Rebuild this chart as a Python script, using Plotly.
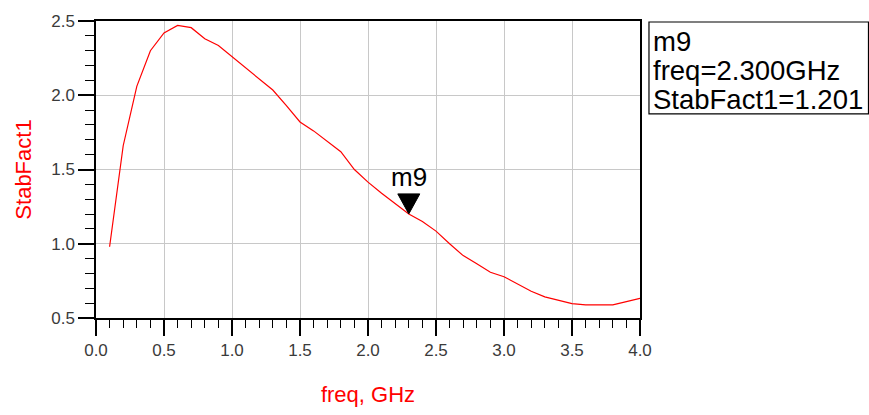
import plotly.graph_objects as go

freq_ghz = [0.1, 0.2, 0.3, 0.4, 0.5, 0.6, 0.7, 0.8, 0.9, 1.0,
            1.1, 1.2, 1.3, 1.4, 1.5, 1.6, 1.7, 1.8, 1.9, 2.0,
            2.1, 2.2, 2.3, 2.4, 2.5, 2.6, 2.7, 2.8, 2.9, 3.0,
            3.1, 3.2, 3.3, 3.4, 3.5, 3.6, 3.7, 3.8, 3.9, 4.0]
stab_fact1 = [0.98, 1.66, 2.06, 2.30, 2.42, 2.47, 2.455, 2.38, 2.335, 2.26,
              2.18, 2.105, 2.035, 1.93, 1.82, 1.76, 1.69, 1.62, 1.50, 1.415,
              1.34, 1.27, 1.201, 1.15, 1.085, 1.0, 0.92, 0.865, 0.808, 0.778,
              0.728, 0.68, 0.642, 0.618, 0.597, 0.588, 0.588, 0.589, 0.61, 0.632]

marker_name = "m9"
marker_freq = 2.3
marker_val = 1.201

x_ticks = [0.0, 0.5, 1.0, 1.5, 2.0, 2.5, 3.0, 3.5, 4.0]
y_ticks = [0.5, 1.0, 1.5, 2.0, 2.5]

RED = "#ff0000"
TICK_FONT = dict(family="Liberation Sans, Arial", size=17, color="#3a3a3a")

fig = go.Figure()
fig.add_trace(go.Scatter(x=freq_ghz, y=stab_fact1, mode="lines",
                         line=dict(color=RED, width=1.2), showlegend=False,
                         hoverinfo="skip"))

axis_common = dict(showline=True, linecolor="black", linewidth=1.5, mirror=True,
                   showgrid=True, gridcolor="#c8c8c8", gridwidth=1,
                   ticks="outside", ticklen=16, tickwidth=1.5, tickcolor="black",
                   tickfont=TICK_FONT, zeroline=False)

fig.update_xaxes(range=[0, 4], tickvals=x_ticks,
                 ticktext=[f"{v:.1f}" for v in x_ticks],
                 minor=dict(dtick=0.1, ticks="outside", ticklen=8, tickwidth=1.2,
                            tickcolor="black", showgrid=False),
                 title=dict(text="freq, GHz", font=dict(family="Liberation Sans, Arial", size=22, color=RED),
                            standoff=27),
                 **axis_common)
fig.update_yaxes(range=[0.5, 2.5], tickvals=y_ticks,
                 ticktext=[f"{v:.1f}" for v in y_ticks],
                 minor=dict(dtick=0.1, ticks="outside", ticklen=9, tickwidth=1.2,
                            tickcolor="black", showgrid=False),
                 title=dict(text="StabFact1", font=dict(family="Liberation Sans, Arial", size=22, color=RED),
                            standoff=14),
                 **axis_common)

# marker triangle with tip on the curve point
fig.add_shape(type="path", xref="x", yref="y",
              xsizemode="pixel", ysizemode="pixel",
              xanchor=marker_freq, yanchor=marker_val,
              path="M -11 20 L 11 20 L 0 0 Z",
              fillcolor="black", line=dict(color="black", width=1))
fig.add_annotation(x=marker_freq, y=marker_val, text=marker_name, showarrow=False,
                   xanchor="center", yanchor="bottom", yshift=20,
                   font=dict(family="Liberation Sans, Arial", size=26, color="black"))

# marker readout box
fig.add_shape(type="rect", xref="paper", yref="paper",
              x0=1.0165, x1=1.42, y0=0.6875, y1=0.9967,
              line=dict(color="black", width=1.2), fillcolor="white")
readout = [marker_name, f"freq={marker_freq:.3f}GHz", f"StabFact1={marker_val:.3f}"]
for i, line in enumerate(readout):
    fig.add_annotation(xref="paper", yref="paper", x=1.021, y=0.99 - i * 0.097,
                       text=line, showarrow=False, xanchor="left", yanchor="top",
                       font=dict(family="Liberation Sans, Arial", size=27.5, color="black"))

fig.update_layout(width=869, height=415,
                  margin=dict(l=96, r=229, t=20, b=91),
                  plot_bgcolor="white", paper_bgcolor="white")

fig.write_html("out.html")
